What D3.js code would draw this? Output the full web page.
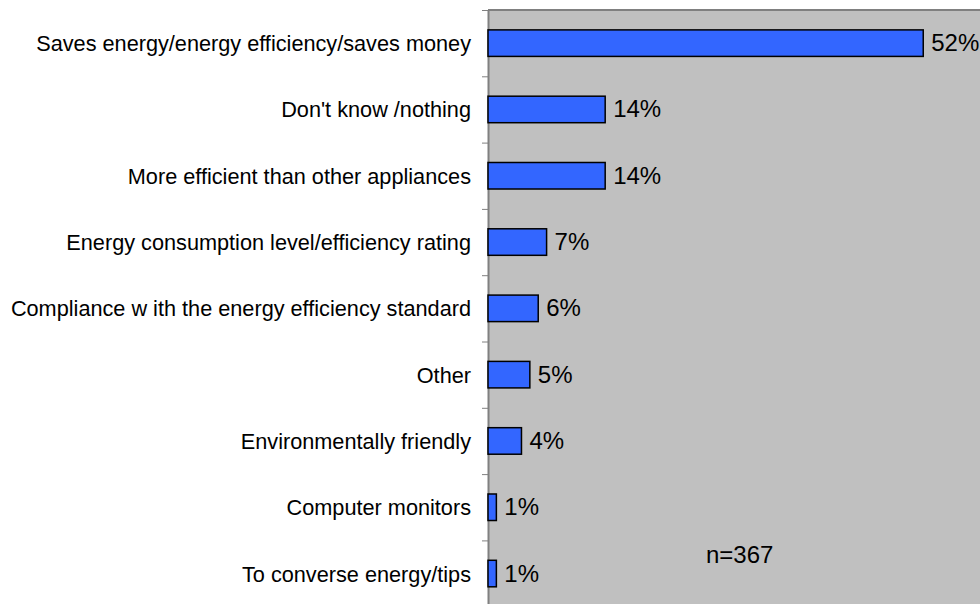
<!DOCTYPE html>
<html>
  <head>
    <meta charset="utf-8">
    <script src="https://cdn.jsdelivr.net/npm/d3@7"></script>
    <style>
      body { margin: 0; background: #fff; }
      text { font-family: Arial, "Liberation Sans", sans-serif; fill: #000; }
    </style>
  </head>
  <body>
    <svg id="chart"></svg>
    <script>

    var width = 980
    var height = 604

    // answers, top to bottom
    var categories = [
      "Saves energy/energy efficiency/saves money",
      "Don't know /nothing",
      "More efficient than other appliances",
      "Energy consumption level/efficiency rating",
      "Compliance w ith the energy efficiency standard",
      "Other",
      "Environmentally friendly",
      "Computer monitors",
      "To converse energy/tips"
    ]
    var values = [52, 14, 14, 7, 6, 5, 4, 1, 1]
    var note = "n=367"

    var plotLeft = 488
    var plotTop = 10
    var step = 66.3

    var svg = d3.select("#chart")
      .attr("width", width)
      .attr("height", height)

    var x = d3.scaleLinear()
      .domain([0, 60])
      .range([plotLeft, plotLeft + 60 * 8.37])

    var y = d3.scaleBand()
      .domain(categories)
      .range([plotTop, plotTop + step * categories.length])
      .paddingInner(0.6)
      .paddingOuter(0.3)

    // grey plot area
    svg.append("rect")
      .attr("x", plotLeft)
      .attr("y", plotTop)
      .attr("width", width - plotLeft + 20)
      .attr("height", height)
      .attr("fill", "#c0c0c0")

    svg.append("line")
      .attr("x1", plotLeft).attr("x2", width + 10)
      .attr("y1", plotTop).attr("y2", plotTop)
      .attr("stroke", "#808080")
      .attr("stroke-width", 2)

    // left axis with ticks between categories
    var tickScale = d3.scaleLinear()
      .domain([0, categories.length])
      .range([plotTop, plotTop + step * categories.length])

    var axis = svg.append("g")
      .attr("transform", "translate(" + plotLeft + ",0)")
      .call(d3.axisLeft(tickScale)
        .tickValues(d3.range(categories.length + 1))
        .tickSize(6)
        .tickSizeOuter(0)
        .tickFormat(""))
    axis.select(".domain").attr("stroke", "#808080").attr("stroke-width", 2)
    axis.selectAll(".tick line").attr("stroke", "#808080").attr("stroke-width", 1)

    // category labels
    svg.append("g").selectAll("text")
      .data(categories)
      .enter().append("text")
      .attr("x", 471)
      .attr("y", function(d) { return y(d) + y.bandwidth() / 2 + 8 })
      .attr("text-anchor", "end")
      .style("font-size", "21.7px")
      .text(function(d) { return d })

    // bars
    svg.append("g").selectAll("rect")
      .data(values)
      .enter().append("rect")
      .attr("x", x(0))
      .attr("y", function(d, i) { return y(categories[i]) })
      .attr("width", function(d) { return x(d) - x(0) })
      .attr("height", y.bandwidth())
      .attr("fill", "#3366ff")
      .attr("stroke", "#000")
      .attr("stroke-width", 1.5)

    // value labels
    svg.append("g").selectAll("text")
      .data(values)
      .enter().append("text")
      .attr("x", function(d) { return x(d) + 8 })
      .attr("y", function(d, i) { return y(categories[i]) + y.bandwidth() / 2 + 8 })
      .style("font-size", "24px")
      .text(function(d) { return d + "%" })

    svg.append("text")
      .attr("x", 706)
      .attr("y", 563)
      .style("font-size", "24px")
      .text(note)

    </script>
  </body>
</html>
